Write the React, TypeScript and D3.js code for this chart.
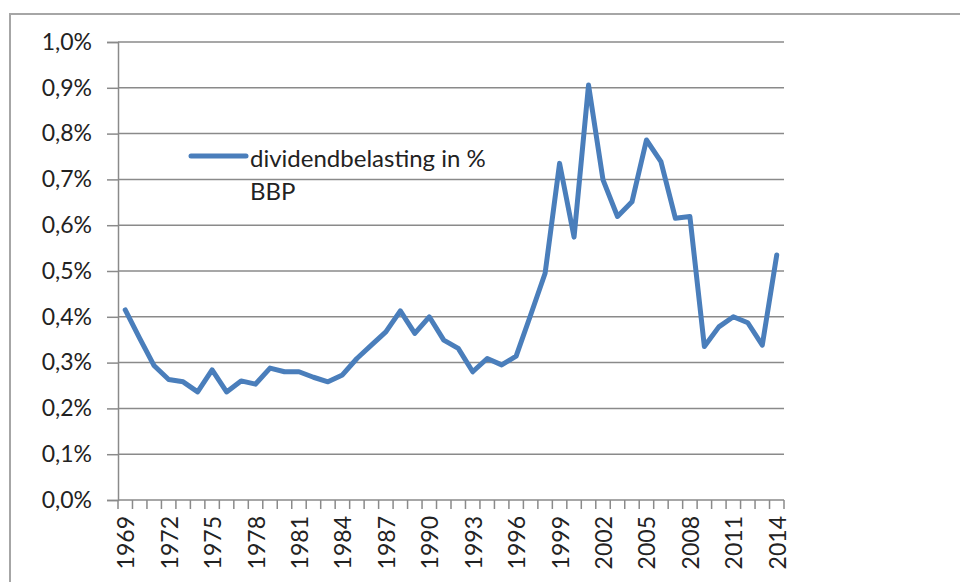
import React, { useEffect, useRef } from 'react';
import * as d3 from 'd3';

// dividendbelasting in % BBP, 1969-2014
const years: number[] = d3.range(1969, 2015);
const values: number[] = [
  0.415, 0.353, 0.293, 0.263, 0.258, 0.236, 0.284, 0.236, 0.260, 0.253,
  0.288, 0.280, 0.280, 0.268, 0.258, 0.273, 0.309, 0.338, 0.367, 0.413,
  0.364, 0.400, 0.349, 0.331, 0.280, 0.309, 0.295, 0.314, 0.404, 0.495,
  0.735, 0.574, 0.906, 0.699, 0.619, 0.651, 0.786, 0.739, 0.615, 0.619,
  0.335, 0.378, 0.400, 0.387, 0.338, 0.535,
];
const yTicks: number[] = [0, 0.1, 0.2, 0.3, 0.4, 0.5, 0.6, 0.7, 0.8, 0.9, 1.0];
const labelYears: number[] = years.filter((y) => (y - 1969) % 3 === 0);
const seriesName: string[] = ['dividendbelasting in %', 'BBP'];

const FONT = 'Lato, Calibri, sans-serif';
const LINE = '#4a7ebb';
const GRID = '#8a8a8a';

function App() {
  const ref = useRef<SVGSVGElement>(null);

  useEffect(() => {
    const svg = d3.select(ref.current);
    svg.selectAll('*').remove();

    const left = 118, right = 784, top = 42, bottom = 500;

    svg.append('rect')
      .attr('x', 0).attr('y', 0).attr('width', 960).attr('height', 582)
      .attr('fill', '#fff');

    // outer chart border
    svg.append('rect')
      .attr('x', 10).attr('y', 14).attr('width', 1000).attr('height', 600)
      .attr('fill', 'none').attr('stroke', '#a6a6a6').attr('stroke-width', 2);

    const x = d3.scaleBand<number>().domain(years).range([left, right]);
    const y = d3.scaleLinear().domain([0, 1]).range([bottom, top]);

    // gridlines + y axis
    const yAxis = svg.append('g')
      .attr('transform', `translate(${left},0)`)
      .call(d3.axisLeft(y).tickValues(yTicks).tickSize(11).tickPadding(15)
        .tickFormat((d) => d3.format('.1f')(d as number).replace('.', ',') + '%'));
    yAxis.select('.domain').attr('stroke', GRID).attr('stroke-width', 1.5);
    yAxis.selectAll('.tick line').attr('stroke', GRID).attr('stroke-width', 1.5);
    yAxis.selectAll('text')
      .attr('font-family', FONT).attr('font-size', 23).attr('fill', '#222');

    svg.append('g')
      .selectAll('line')
      .data(yTicks)
      .enter()
      .append('line')
      .attr('x1', left).attr('x2', right)
      .attr('y1', (d) => y(d)).attr('y2', (d) => y(d))
      .attr('stroke', GRID).attr('stroke-width', 1.5);

    // x axis: tick marks between categories
    svg.append('g')
      .selectAll('line')
      .data(years.concat([2015]))
      .enter()
      .append('line')
      .attr('x1', (d, i) => left + i * x.bandwidth())
      .attr('x2', (d, i) => left + i * x.bandwidth())
      .attr('y1', bottom).attr('y2', bottom + 9)
      .attr('stroke', GRID).attr('stroke-width', 1.5);

    svg.append('g')
      .selectAll('text')
      .data(labelYears)
      .enter()
      .append('text')
      .attr('transform', (d) => `translate(${x(d)! + x.bandwidth() / 2},${bottom + 16}) rotate(-90)`)
      .attr('text-anchor', 'end')
      .attr('dominant-baseline', 'central')
      .attr('font-family', FONT).attr('font-size', 23).attr('fill', '#222')
      .text((d) => String(d));

    const line = d3.line<number>()
      .x((d, i) => x(years[i])! + x.bandwidth() / 2)
      .y((d) => y(d));

    svg.append('path')
      .datum(values)
      .attr('d', line)
      .attr('fill', 'none')
      .attr('stroke', LINE)
      .attr('stroke-width', 5)
      .attr('stroke-linejoin', 'round')
      .attr('stroke-linecap', 'round');

    // legend
    svg.append('line')
      .attr('x1', 191).attr('x2', 246).attr('y1', 156).attr('y2', 156)
      .attr('stroke', LINE).attr('stroke-width', 5).attr('stroke-linecap', 'round');

    svg.append('g')
      .selectAll('text')
      .data(seriesName)
      .enter()
      .append('text')
      .attr('x', 250)
      .attr('y', (d, i) => 157 + i * 33)
      .attr('dominant-baseline', 'central')
      .attr('font-family', FONT).attr('font-size', 24).attr('fill', '#222')
      .text((d) => d);
  }, []);

  return (
    <svg ref={ref} width={960} height={582}
      style={{ position: 'absolute', left: 0, top: 0 }} />
  );
}

export default App;
